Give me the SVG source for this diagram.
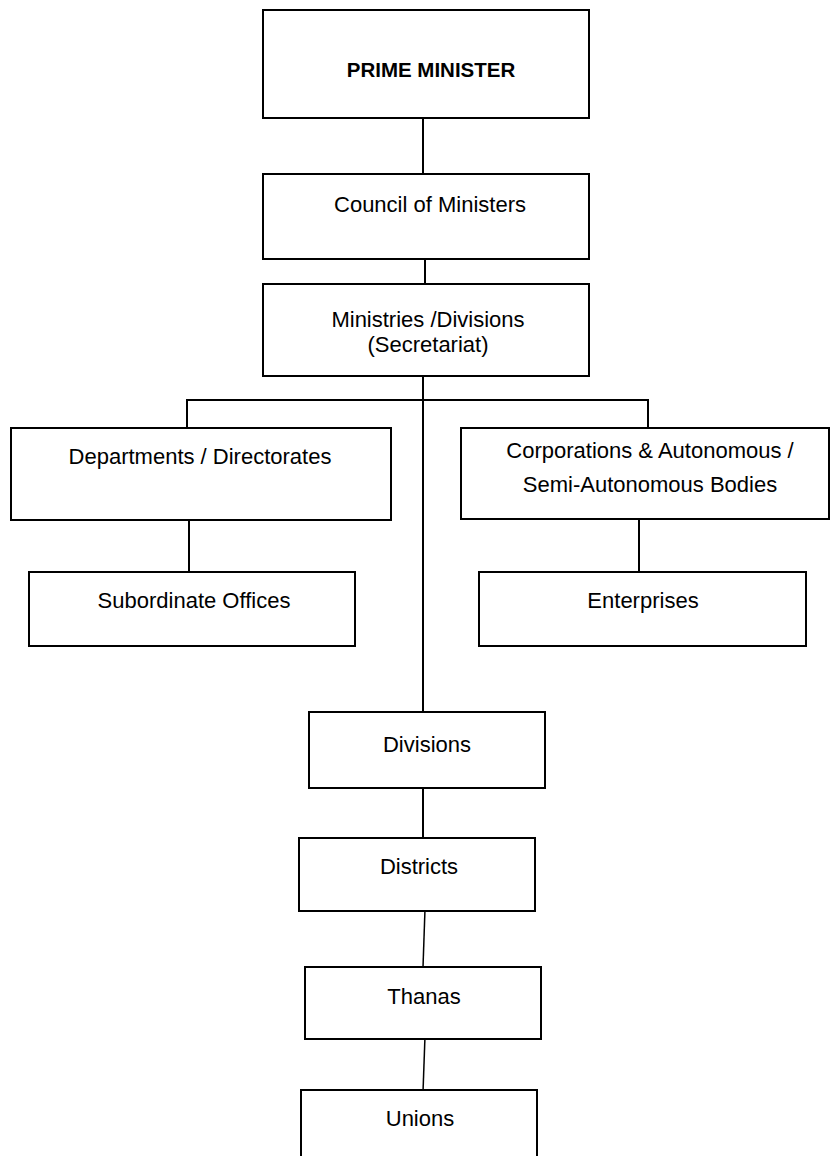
<svg xmlns="http://www.w3.org/2000/svg" width="830" height="1156" viewBox="0 0 830 1156">
<style>
.box{fill:#fff;stroke:#000;stroke-width:2}
.lbl{font-family:"Liberation Sans",Arial,sans-serif;font-size:22px;fill:#000;text-anchor:middle}
.bold{font-weight:bold;font-size:20.5px}
.con{stroke:#000;stroke-width:2;fill:none}
.thin{stroke-width:1.5}
</style>
<rect width="830" height="1156" fill="#fff"/>
<g id="connectors">
<line class="con" x1="423" y1="118" x2="423" y2="174"/>
<line class="con" x1="425" y1="259" x2="425" y2="286"/>
<line class="con" x1="423" y1="373" x2="423" y2="712"/>
<polyline class="con" points="187,428 187,400 648,400 648,428"/>
<line class="con" x1="189" y1="517" x2="189" y2="572"/>
<line class="con" x1="639" y1="520" x2="639" y2="572"/>
<line class="con" x1="423" y1="788" x2="423" y2="840"/>
<line class="con thin" x1="425" y1="909" x2="423" y2="967"/>
<line class="con thin" x1="425" y1="1036" x2="423" y2="1092"/>
</g>
<g id="prime-minister"><rect class="box" x="263" y="10" width="326" height="108"/><text class="lbl bold" x="431" y="77">PRIME MINISTER</text></g>
<g id="council"><rect class="box" x="263" y="174" width="326" height="85"/><text class="lbl" x="430" y="212">Council of Ministers</text></g>
<g id="ministries"><rect class="box" x="263" y="284" width="326" height="92"/><text class="lbl" x="428" y="327">Ministries /Divisions</text><text class="lbl" x="428" y="352">(Secretariat)</text></g>
<g id="departments"><rect class="box" x="11" y="428" width="380" height="92"/><text class="lbl" x="200" y="464">Departments / Directorates</text></g>
<g id="corporations"><rect class="box" x="461" y="428" width="368" height="91"/><text class="lbl" x="650" y="458">Corporations &amp; Autonomous /</text><text class="lbl" x="650" y="492">Semi-Autonomous Bodies</text></g>
<g id="subordinate"><rect class="box" x="29" y="572" width="326" height="74"/><text class="lbl" x="194" y="608">Subordinate Offices</text></g>
<g id="enterprises"><rect class="box" x="479" y="572" width="327" height="74"/><text class="lbl" x="643" y="608">Enterprises</text></g>
<g id="divisions"><rect class="box" x="309" y="712" width="236" height="76"/><text class="lbl" x="427" y="752">Divisions</text></g>
<g id="districts"><rect class="box" x="299" y="838" width="236" height="73"/><text class="lbl" x="419" y="874">Districts</text></g>
<g id="thanas"><rect class="box" x="305" y="967" width="236" height="72"/><text class="lbl" x="424" y="1004">Thanas</text></g>
<g id="unions"><rect class="box" x="301" y="1090" width="236" height="80"/><text class="lbl" x="420" y="1126">Unions</text></g>
</svg>
